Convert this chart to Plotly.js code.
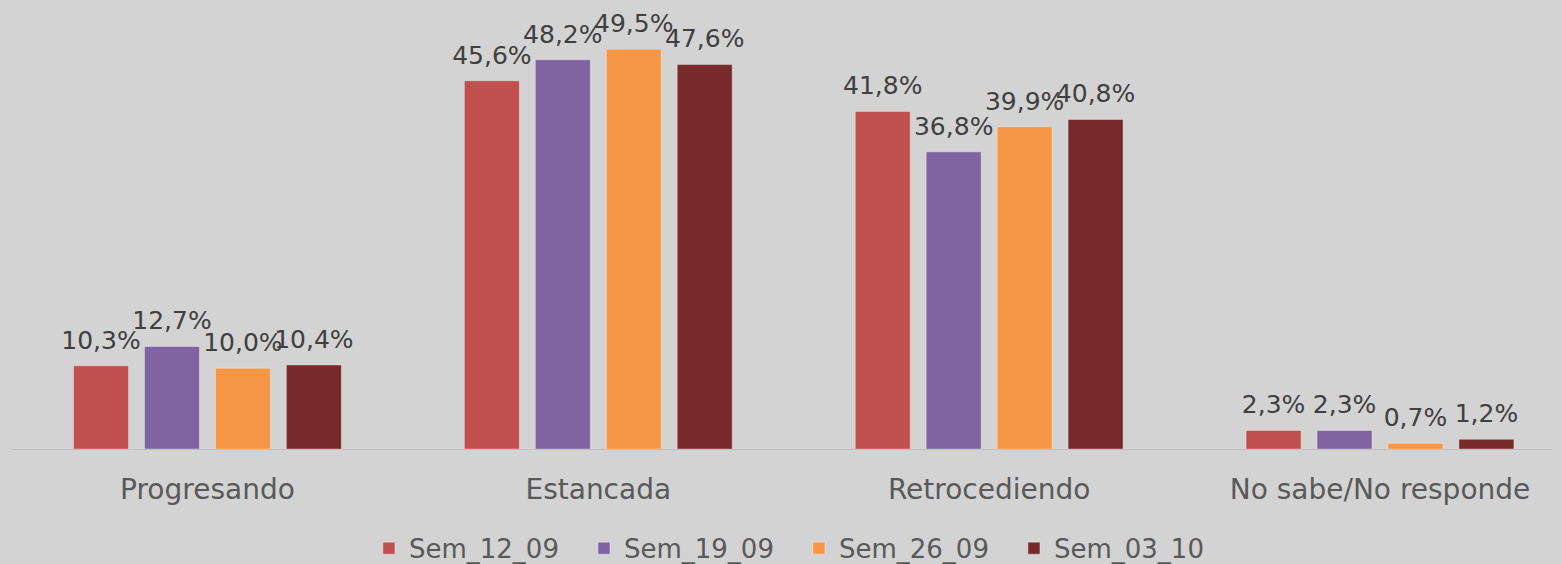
<!DOCTYPE html>
<html>
<head>
<meta charset="utf-8">
<script src="https://cdn.plot.ly/plotly-3.0.1.min.js"></script>
<style>html,body{margin:0;padding:0;background:#d3d3d3;}#chart{width:1562px;height:564px;}</style>
</head>
<body>
<div id="chart"></div>
<script>
var categories = ["Progresando", "Estancada", "Retrocediendo", "No sabe/No responde"];
var seriesNames = ["Sem_12_09", "Sem_19_09", "Sem_26_09", "Sem_03_10"];
var sem_12_09 = [10.3, 45.6, 41.8, 2.3];
var sem_19_09 = [12.7, 48.2, 36.8, 2.3];
var sem_26_09 = [10.0, 49.5, 39.9, 0.7];
var sem_03_10 = [10.4, 47.6, 40.8, 1.2];
var seriesValues = [sem_12_09, sem_19_09, sem_26_09, sem_03_10];
var colors = ["#C0504D", "#8064A2", "#F79646", "#772A2A"];

var FONT = "DejaVu Sans, sans-serif";
function fmt(v){ return v.toFixed(1).replace(".", ",") + "%"; }

var traces = [];
seriesNames.forEach(function(name, i){
  traces.push({
    type: "bar",
    name: name,
    x: categories,
    y: seriesValues[i],
    offsetgroup: String(i),
    marker: {color: colors[i], line: {color: "rgba(255,255,255,0.35)", width: 1}},
    hoverinfo: "none"
  });
});
seriesNames.forEach(function(name, i){
  traces.push({
    type: "scatter",
    mode: "markers+text",
    name: name + "_labels",
    showlegend: false,
    x: categories,
    y: seriesValues[i],
    offsetgroup: String(i),
    text: seriesValues[i].map(fmt),
    textposition: "top center",
    cliponaxis: false,
    textfont: {family: FONT, size: 25, color: "#404040"},
    marker: {size: 16, color: "rgba(0,0,0,0)"},
    hoverinfo: "none"
  });
});

var layout = {
  width: 1562, height: 564,
  paper_bgcolor: "#d3d3d3",
  plot_bgcolor: "#d3d3d3",
  margin: {l: 12, r: 10, t: 0, b: 115, autoexpand: false},
  barmode: "group",
  bargap: 0.274,
  bargroupgap: 0.225,
  scattermode: "group",
  scattergap: 0.274,
  showlegend: true,
  legend: {
    orientation: "h", x: 0.511, xanchor: "center", y: -0.221, yanchor: "middle",
    font: {family: FONT, size: 26, color: "#595959"},
    entrywidth: 170,
    bgcolor: "rgba(0,0,0,0)", itemclick: false, itemdoubleclick: false
  },
  xaxis: {
    type: "category",
    range: [-0.5, 3.44],
    showline: true, linecolor: "#bfbfbf", linewidth: 1,
    showgrid: false, zeroline: false, ticks: "",
    ticklabelstandoff: 15,
    tickfont: {family: FONT, size: 28, color: "#595959"},
    automargin: false
  },
  yaxis: {
    range: [0, 55.6],
    visible: false, showgrid: false, zeroline: false,
    fixedrange: true
  },
  font: {family: FONT}
};

Plotly.newPlot("chart", traces, layout, {displayModeBar: false, staticPlot: true});
</script>
</body>
</html>
